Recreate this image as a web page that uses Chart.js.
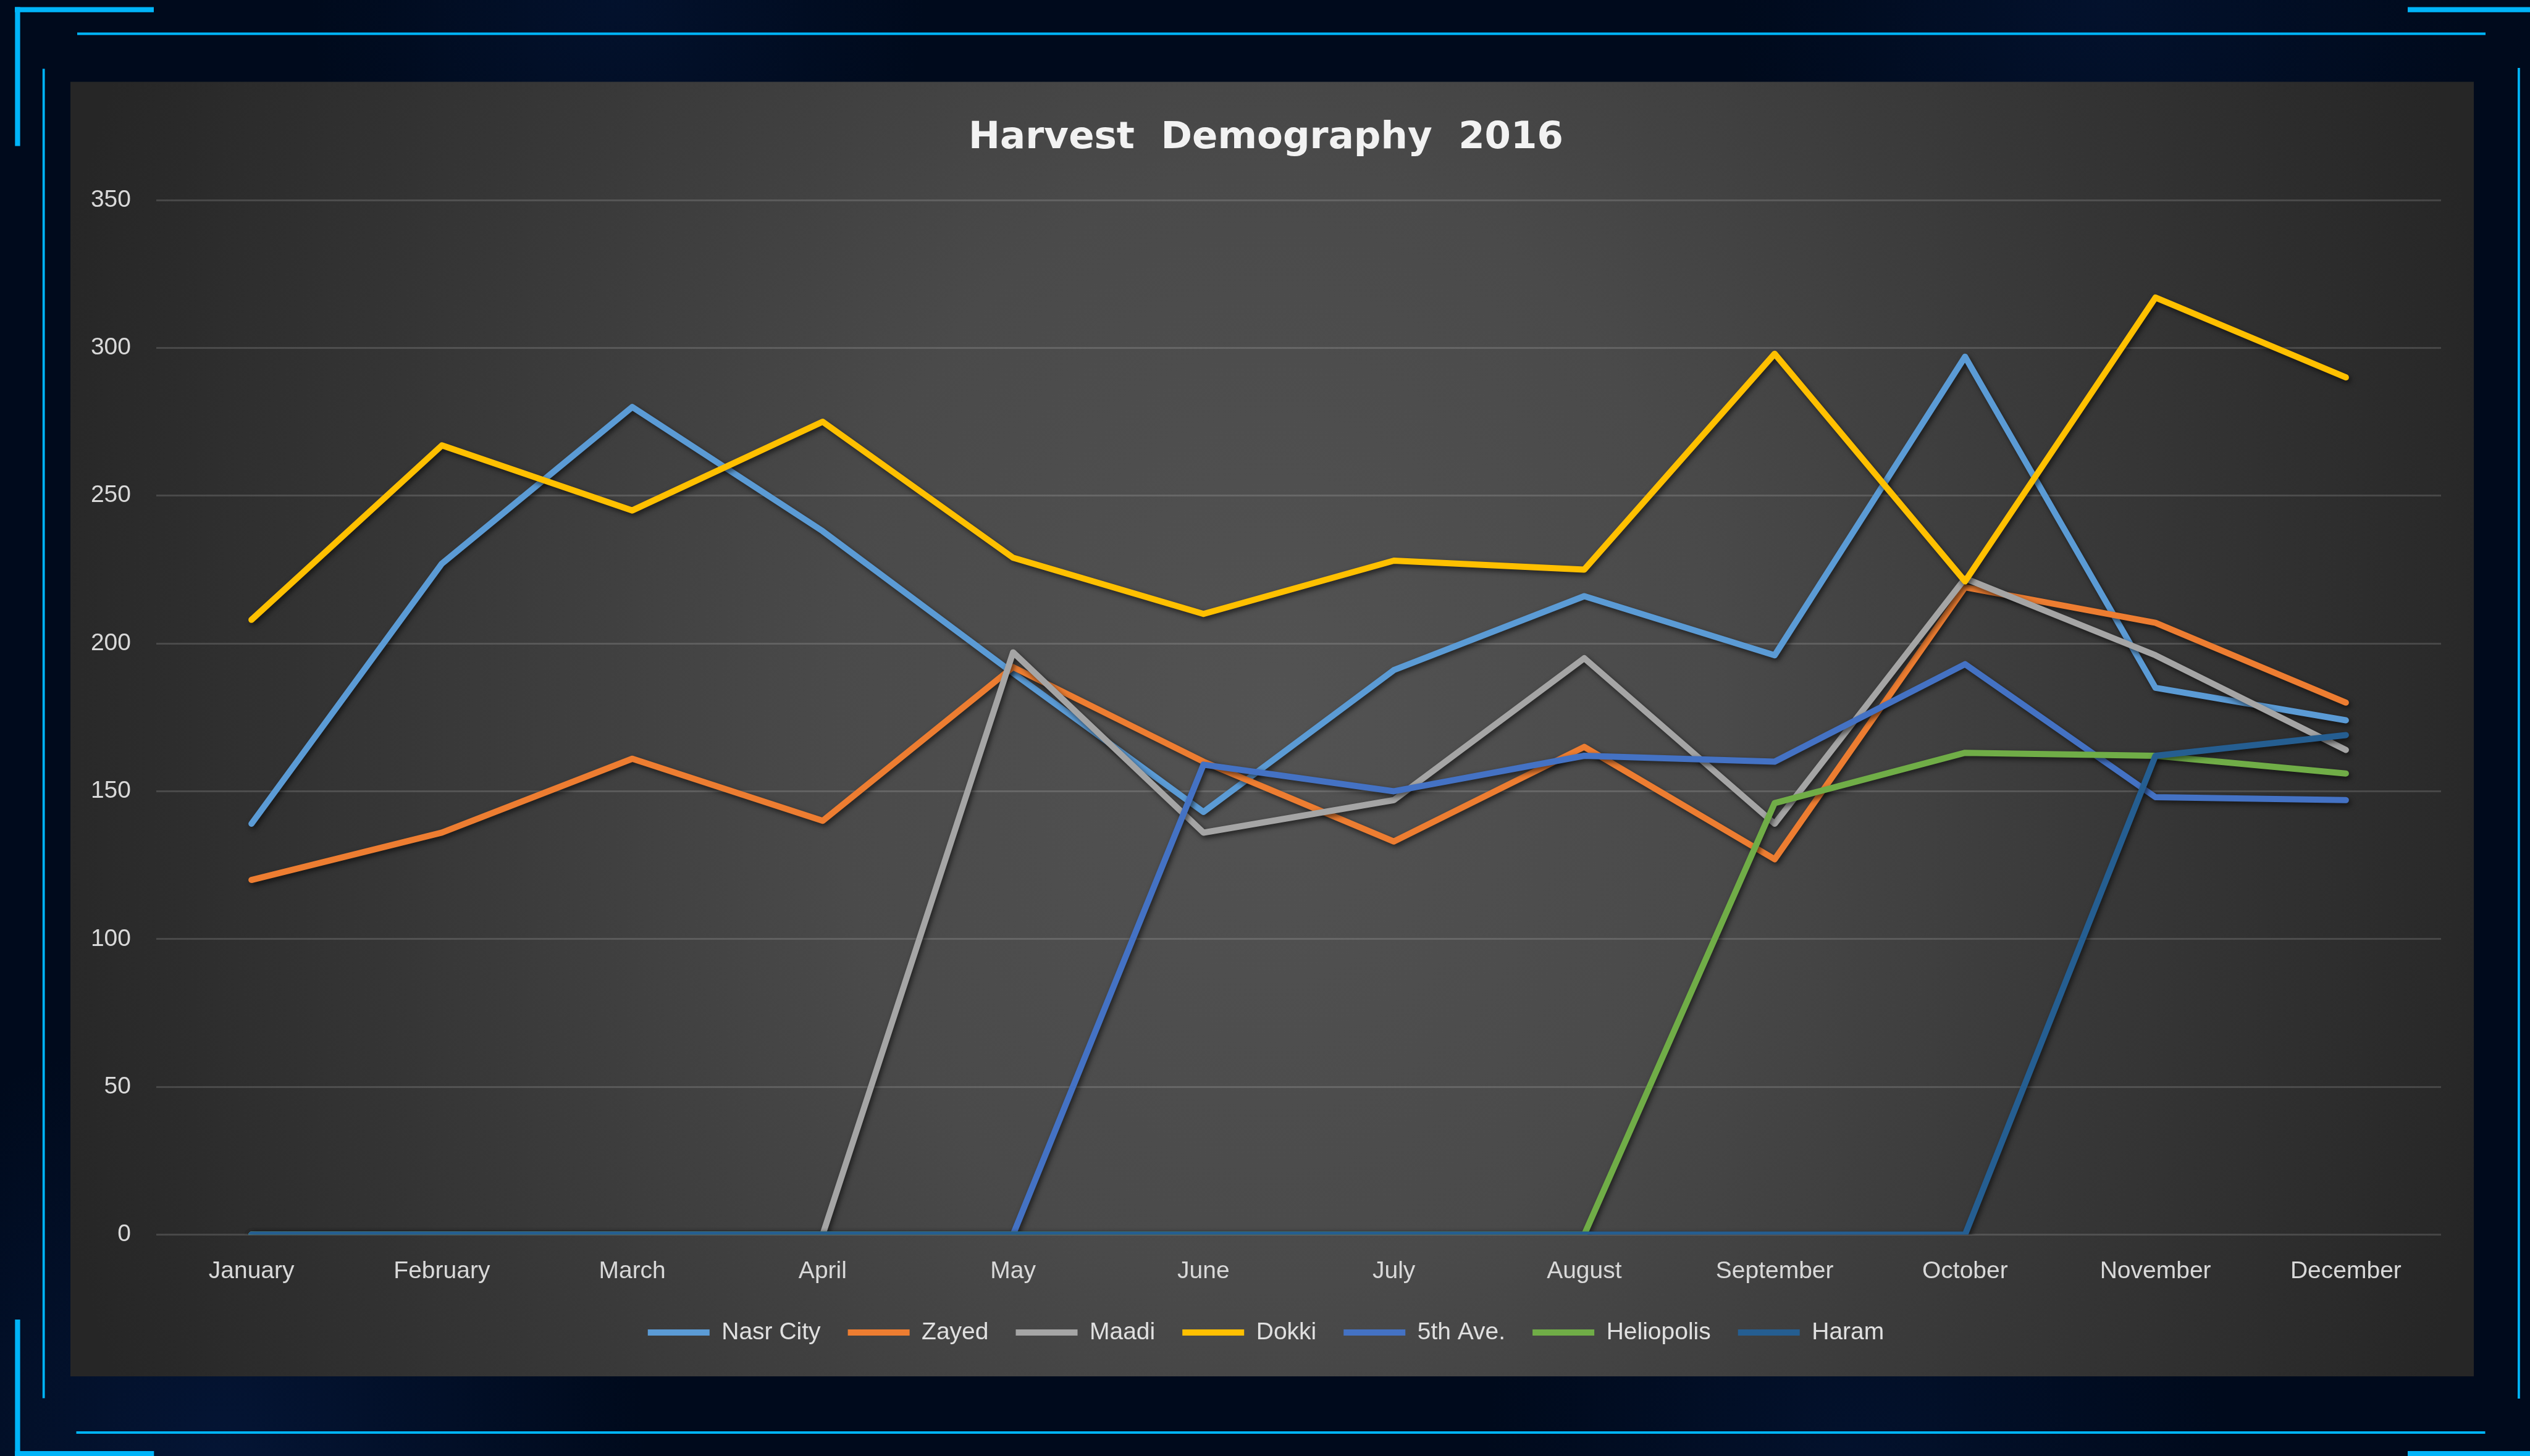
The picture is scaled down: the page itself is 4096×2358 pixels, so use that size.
<!DOCTYPE html>
<html>
<head>
<meta charset="utf-8">
<script src="https://cdn.jsdelivr.net/npm/chart.js@4.4.0/dist/chart.umd.min.js"></script>
<style>
html,body{margin:0;padding:0;background:#000a1c;overflow:hidden;}
#wrap{width:4096px;height:2358px;position:relative;}
</style>
</head>
<body>
<div id="wrap"><canvas id="c"></canvas></div>
<script>
// ---- data ----
const months = ["January","February","March","April","May","June","July","August","September","October","November","December"];
const seriesNames = ["Nasr City","Zayed","Maadi","Dokki","5th Ave.","Heliopolis","Haram"];
const nasrCity   = [139, 227, 280, 238, 190, 143, 191, 216, 196, 297, 185, 174];
const zayed      = [120, 136, 161, 140, 192, 160, 133, 165, 127, 219, 207, 180];
const maadi      = [0, 0, 0, 0, 197, 136, 147, 195, 139, 222, 196, 164];
const dokki      = [208, 267, 245, 275, 229, 210, 228, 225, 298, 221, 317, 290];
const fifthAve   = [0, 0, 0, 0, 0, 159, 150, 162, 160, 193, 148, 147];
const heliopolis = [0, 0, 0, 0, 0, 0, 0, 0, 146, 163, 162, 156];
const haram      = [0, 0, 0, 0, 0, 0, 0, 0, 0, 0, 162, 169];
const seriesColors = ["#5B9BD5","#ED7D31","#A5A5A5","#FFC000","#4472C4","#70AD47","#255E91"];
const yMin = 0, yMax = 350, yStep = 50;
const chartTitle = "Harvest  Demography  2016";

const seriesValues = [nasrCity, zayed, maadi, dokki, fifthAve, heliopolis, haram];

// ---- decoration plugin (page background, frame, panel) ----
const CYAN = "#00b4f8";
const framePlugin = {
  id: "frame",
  beforeDraw(chart) {
    const ctx = chart.ctx, W = chart.width, H = chart.height;
    ctx.save();
    ctx.fillStyle = "#000a1c";
    ctx.fillRect(0, 0, W, H);
    const glows = [
      [350, 2358, 700, "rgba(20,60,140,0.22)"],
      [1000, 0, 500, "rgba(20,60,140,0.15)"],
      [3400, 0, 600, "rgba(20,60,140,0.15)"],
      [3000, 2358, 600, "rgba(20,60,140,0.15)"]
    ];
    for (const [gx, gy, r, col] of glows) {
      const g = ctx.createRadialGradient(gx, gy, 0, gx, gy, r);
      g.addColorStop(0, col);
      g.addColorStop(1, "rgba(20,60,140,0)");
      ctx.fillStyle = g;
      ctx.fillRect(gx - r, gy - r, 2 * r, 2 * r);
    }
    // panel
    const px = 114, py = 132.5, pw = 4005 - 114, ph = 2229 - 132.5;
    const cx = 2058, cy = 1180, rx = 2050, sy = 1.27;
    ctx.save();
    ctx.translate(cx, cy);
    ctx.scale(1, sy);
    const pg = ctx.createRadialGradient(0, 0, 0, 0, 0, rx);
    pg.addColorStop(0, "#535353");
    pg.addColorStop(0.35, "#4a4a4a");
    pg.addColorStop(0.7, "#363636");
    pg.addColorStop(1, "#262626");
    ctx.fillStyle = pg;
    ctx.fillRect(px - cx, (py - cy) / sy, pw, ph / sy);
    ctx.restore();
    // frame lines
    ctx.fillStyle = CYAN;
    ctx.fillRect(24, 11.5, 225, 8.3);
    ctx.fillRect(24.3, 11.5, 8.3, 225);
    ctx.fillRect(3898, 11.5, 198, 8.3);
    ctx.fillRect(24.3, 2137, 8.3, 221);
    ctx.fillRect(24.3, 2350, 225, 8);
    ctx.fillRect(3898, 2350, 198, 8);
    ctx.fillRect(125, 52.6, 3899, 4.1);
    ctx.fillRect(123.5, 2318, 3900, 4);
    ctx.fillRect(68.8, 111.4, 3.8, 2153);
    ctx.fillRect(4076, 110, 3.8, 2155);
    ctx.restore();
  }
};

const shadowPlugin = {
  id: "lineShadow",
  beforeDatasetsDraw(chart) {
    const ctx = chart.ctx;
    ctx.save();
    ctx.shadowColor = "rgba(0,0,0,0.6)";
    ctx.shadowBlur = 8;
    ctx.shadowOffsetX = 3;
    ctx.shadowOffsetY = 4;
  },
  afterDatasetsDraw(chart) {
    chart.ctx.restore();
  }
};

Chart.defaults.font.family = "'Liberation Sans', Arial, sans-serif";
Chart.defaults.color = "#d9d9d9";

const datasets = seriesNames.map((name, i) => ({
  label: name,
  data: seriesValues[i],
  borderColor: seriesColors[i],
  backgroundColor: seriesColors[i],
  borderWidth: 10,
  borderJoinStyle: "round",
  borderCapStyle: "round",
  pointRadius: 0,
  pointHoverRadius: 0,
  tension: 0,
  fill: false,
  order: seriesNames.length - 1 - i
}));

new Chart(document.getElementById("c"), {
  type: "line",
  data: { labels: months, datasets },
  options: {
    responsive: true,
    maintainAspectRatio: false,
    animation: false,
    devicePixelRatio: 1,
    layout: { padding: { left: 147, right: 144, top: 130, bottom: 170.5 } },
    plugins: {
      tooltip: { enabled: false },
      title: {
        display: true,
        text: chartTitle,
        color: "#f2f2f2",
        font: { family: "'DejaVu Sans', sans-serif", size: 61, weight: "bold" },
        padding: { top: 57.4, bottom: 63.4 }
      },
      legend: {
        display: true,
        position: "bottom",
        labels: {
          usePointStyle: true,
          pointStyle: "line",
          pointStyleWidth: 100,
          boxWidth: 100,
          padding: 44,
          color: "#e0e0e0",
          font: { size: 39 },
          sort: (a, b) => a.datasetIndex - b.datasetIndex
        }
      }
    },
    scales: {
      x: {
        offset: true,
        grid: { display: false, drawTicks: false },
        border: { display: false },
        ticks: { padding: 36, color: "#d9d9d9", font: { size: 39 }, maxRotation: 0, autoSkip: false },
        afterFit: s => { s.height = 95; }
      },
      y: {
        min: yMin,
        max: yMax,
        grid: { color: "rgba(255,255,255,0.14)", lineWidth: 3, drawTicks: false },
        border: { display: false },
        ticks: { stepSize: yStep, padding: 41, color: "#d9d9d9", font: { size: 39 } },
        afterFit: s => { s.width = 106; }
      }
    }
  },
  plugins: [framePlugin, shadowPlugin]
});
</script>
</body>
</html>
